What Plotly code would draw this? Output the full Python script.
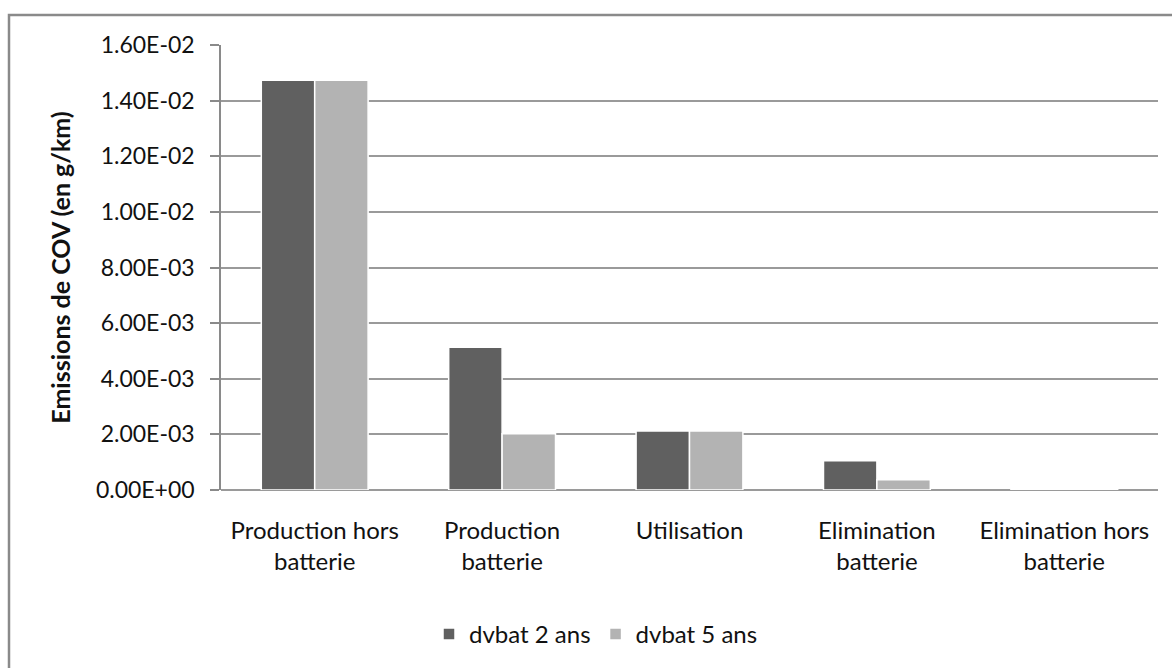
import plotly.graph_objects as go

# Categories (life-cycle stages) and VOC emissions per series, g/km
categories = [
    "Production hors<br>batterie",
    "Production<br>batterie",
    "Utilisation",
    "Elimination<br>batterie",
    "Elimination hors<br>batterie",
]
dvbat_2_ans = [1.473e-02, 5.13e-03, 2.12e-03, 1.05e-03, 5e-05]
dvbat_5_ans = [1.473e-02, 2.02e-03, 2.12e-03, 3.7e-04, 5e-05]

y_tick_values = [0.000, 0.002, 0.004, 0.006, 0.008, 0.010, 0.012, 0.014, 0.016]
y_tick_labels = ["0.00E+00", "2.00E-03", "4.00E-03", "6.00E-03", "8.00E-03",
                 "1.00E-02", "1.20E-02", "1.40E-02", "1.60E-02"]

FONT = "Lato"
TEXT = "#111111"
W, H = 1172, 668
M_L, M_R, M_T, M_B = 221, 14, 45, 176.5
plot_w = W - M_L - M_R
plot_h = H - M_T - M_B


def px_to_paper_x(px):
    return (px - M_L) / plot_w


def px_to_paper_y(py):
    return (H - M_B - py) / plot_h


fig = go.Figure()
fig.add_trace(go.Bar(
    name="dvbat 2 ans", x=categories, y=dvbat_2_ans,
    marker=dict(color="#606060", line=dict(color="white", width=1.5)),
))
fig.add_trace(go.Bar(
    name="dvbat 5 ans", x=categories, y=dvbat_5_ans,
    marker=dict(color="#b3b3b3", line=dict(color="white", width=1.5)),
))

# outer chart frame
fig.add_shape(
    type="rect", xref="paper", yref="paper",
    x0=px_to_paper_x(9), x1=px_to_paper_x(1190),
    y0=px_to_paper_y(700), y1=px_to_paper_y(15),
    line=dict(color="#8a8a8a", width=2.5), fillcolor="rgba(0,0,0,0)",
    layer="below",
)

fig.update_layout(
    width=W, height=H,
    margin=dict(l=M_L, r=M_R, t=M_T, b=M_B, pad=0),
    paper_bgcolor="white", plot_bgcolor="white",
    barmode="group", bargap=0.43, bargroupgap=0.0,
    font=dict(family=FONT, size=24, color=TEXT),
    showlegend=True,
    legend=dict(
        orientation="h", x=px_to_paper_x(596), xanchor="center",
        y=px_to_paper_y(635), yanchor="middle",
        font=dict(family=FONT, size=24, color=TEXT),
        itemwidth=30, traceorder="normal",
    ),
    xaxis=dict(
        showgrid=False, showline=False, ticks="",
        tickfont=dict(family=FONT, size=24, color=TEXT),
        ticklabelstandoff=24,
    ),
    yaxis=dict(
        range=[0, 0.016], tickvals=y_tick_values, ticktext=y_tick_labels,
        showgrid=True, gridcolor="#9a9a9a", gridwidth=1.5,
        showline=True, linecolor="#8a8a8a", linewidth=1.5,
        ticks="outside", ticklen=9, tickcolor="#8a8a8a", tickwidth=1.5,
        ticklabelstandoff=11,
        zeroline=True, zerolinecolor="#9a9a9a", zerolinewidth=1.5,
        tickfont=dict(family=FONT, size=23, color=TEXT),
        title=dict(text="<b>Emissions de COV (en g/km)</b>",
                   font=dict(family=FONT, size=25, color=TEXT),
                   standoff=18),
    ),
)

fig.write_html("out.html")
